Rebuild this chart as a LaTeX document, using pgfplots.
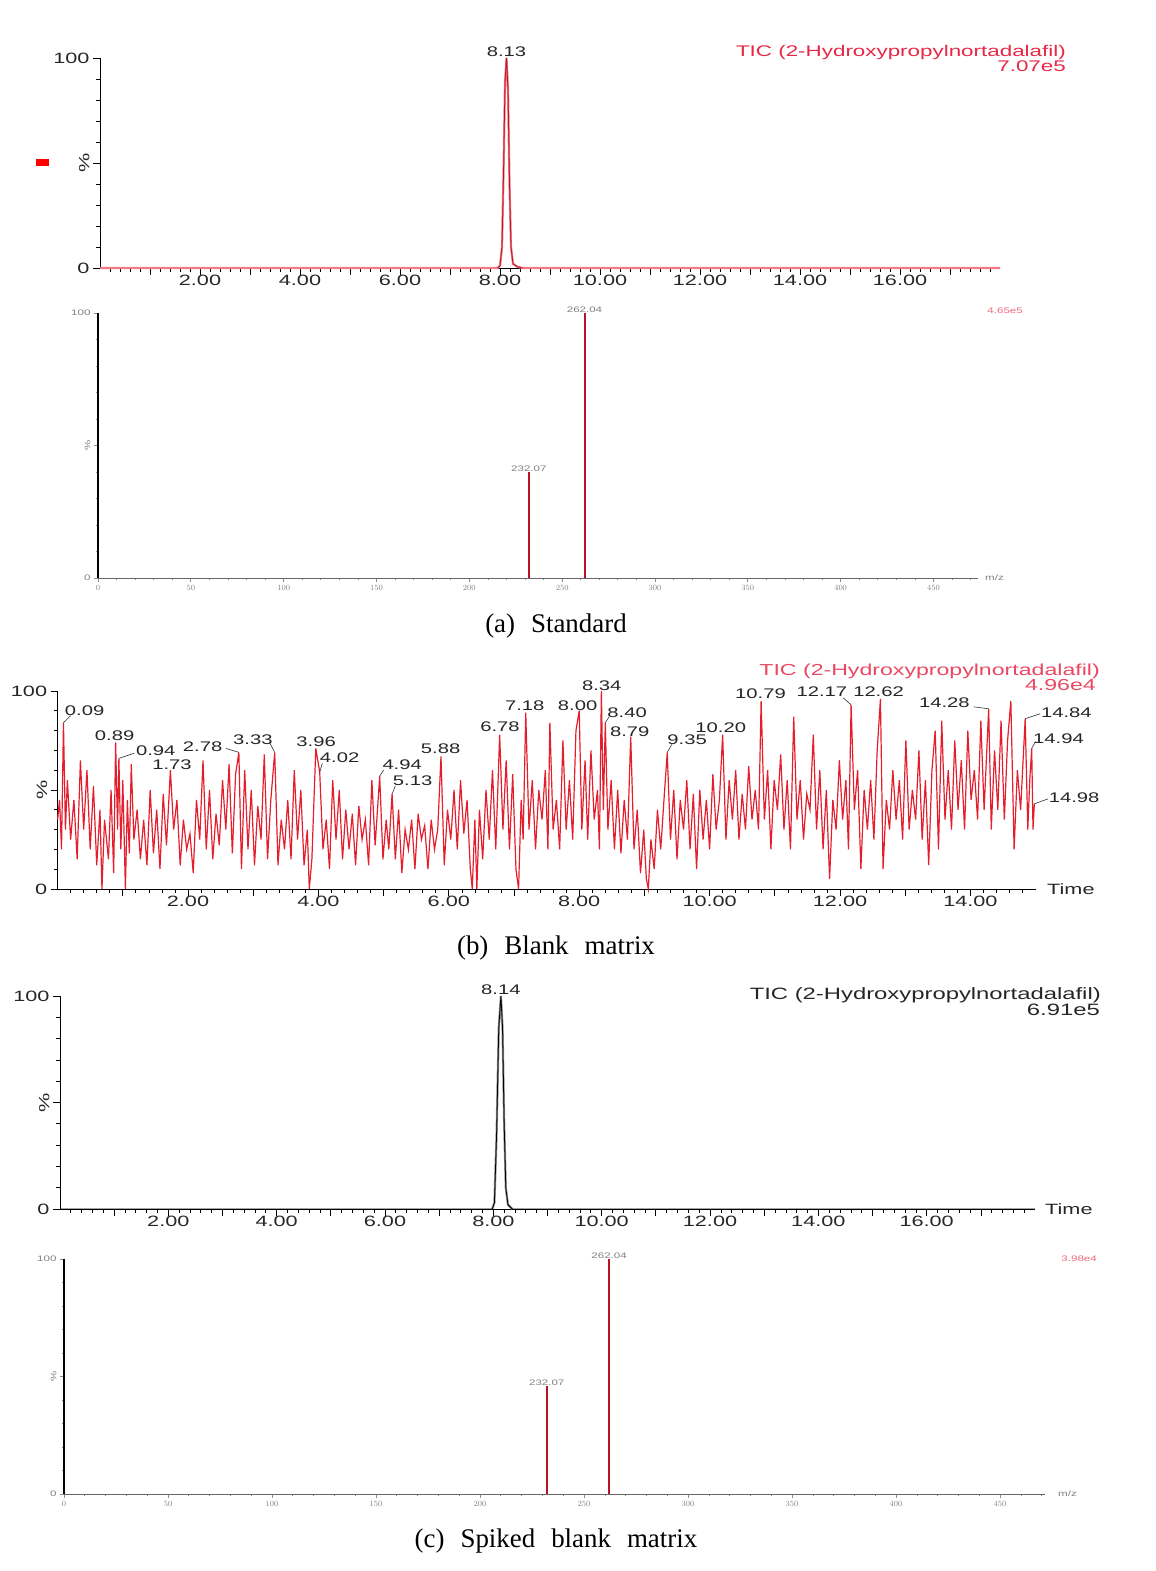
\documentclass[border=0pt]{standalone}
\usepackage{fontspec}
\setmainfont{Liberation Serif}
\newfontfamily\cf[FakeStretch=1.45]{Liberation Sans}
\usepackage{graphicx}
\usepackage{pgfplots}
\pgfplotsset{compat=1.18}
\definecolor{tred}{RGB}{228,30,45}
\definecolor{dred}{RGB}{185,20,35}
\definecolor{lred}{RGB}{240,120,130}
\definecolor{titred}{RGB}{230,40,70}
\pgfplotsset{
  chrom/.style={
    scale only axis, clip=false,
    axis x line*=bottom, axis y line*=left,
    axis line style={black, line width=0.8pt, -},
    tick align=outside, major tick length=7pt, minor tick length=4pt,
    every tick/.style={black, line width=0.7pt},
    ymin=0, ymax=100,
    ytick={0,50,100}, yticklabels={0,\rotatebox{90}{\%},100},
    minor ytick={10,20,...,90},
    tick label style={font=\fontsize{15}{17}\selectfont\cf, black!85},
    xticklabel style={yshift=3bp},
  },
  ms/.style={
    scale only axis, clip=false,
    axis x line*=bottom, axis y line*=left,
    axis line style={-},
    x axis line style={black!60, line width=0.8pt},
    y axis line style={black, line width=2pt},
    tick align=outside, major tick length=4pt, minor tick length=2pt,
    every tick/.style={black!45, line width=0.7pt},
    ymin=0, ymax=100,
    ytick={0,50,100}, yticklabels={0,\rotatebox{90}{\%},100},
    minor ytick={10,20,...,90},
    xtick={0,50,...,450}, minor xtick={10,20,...,470},
    tick label style={font=\fontsize{8}{9}\selectfont\cf, black!50},
  },
}
\newcommand{\lf}{\fontsize{14}{16}\selectfont\cf}
\newcommand{\gap}{\hspace{16bp}}
\begin{document}
\begin{tikzpicture}[x=1bp,y=1bp]
\path[use as bounding box] (0,0) rectangle (1155,1571);

% ---------- Panel 1: TIC standard ----------
\begin{axis}[chrom, at={(100bp,1303bp)}, anchor=south west, width=900bp, height=210bp,
  xmin=0, xmax=18, xtick={1,2,...,17},
  xticklabels={{},2.00,{},4.00,{},6.00,{},8.00,{},10.00,{},12.00,{},14.00,{},16.00,{}},
  minor xtick={0.2,0.4,...,17.8}]
\addplot[lred, line width=2.2bp] coordinates {(0,0) (7.95,0) (8.00,1) (8.04,10) (8.07,45) (8.10,88) (8.13,100) (8.16,85) (8.19,40) (8.22,10) (8.26,2) (8.35,0.5) (8.45,0) (18,0)};
\addplot[dred, line width=0.8bp] coordinates {(7.95,0) (8.00,1) (8.04,10) (8.07,45) (8.10,88) (8.13,100) (8.16,85) (8.19,40) (8.22,10) (8.26,2) (8.35,0.5) (8.45,0)};
\node[anchor=south, inner sep=0pt, yshift=1bp, font=\lf, black!85] at (axis cs:8.13,100) {8.13};
\end{axis}
\node[anchor=east, inner sep=0pt, font=\fontsize{15.5}{17}\selectfont\cf, titred] at (1066,1518) {TIC (2-Hydroxypropylnortadalafil)};
\node[anchor=east, inner sep=0pt, font=\fontsize{15.5}{17}\selectfont\cf, titred] at (1066,1505) {7.07e5};
\fill[red] (36,1405) rectangle (49,1412);

% ---------- Panel 2: MS standard ----------
\begin{axis}[ms, at={(98bp,993bp)}, anchor=south west, width=880bp, height=265bp,
  xmin=0, xmax=474]
\addplot[ycomb, dred, line width=2bp] coordinates {(232.07,40) (262.04,100)};
\node[anchor=south, inner sep=0pt, font=\fontsize{8}{9}\selectfont\cf, black!50] at (axis cs:262.04,100) {262.04};
\node[anchor=south, inner sep=0pt, font=\fontsize{8}{9}\selectfont\cf, black!50] at (axis cs:232.07,40) {232.07};
\end{axis}
\node[anchor=east, inner sep=0pt, font=\fontsize{8}{9}\selectfont\cf, titred!70] at (1023,1260) {4.65e5};
\node[anchor=west, inner sep=0pt, font=\fontsize{8}{9}\selectfont\cf, black!50] at (985,993) {m/z};
\node[font=\fontsize{27}{29}\selectfont] at (556,945) {(a)\gap Standard};

% ---------- Panel 3: blank matrix ----------
\begin{axis}[chrom, at={(57.6bp,682bp)}, anchor=south west, width=978bp, height=198bp,
  xmin=0, xmax=15, xtick={1,2,...,14},
  xticklabels={{},2.00,{},4.00,{},6.00,{},8.00,{},10.00,{},12.00,{},14.00},
  minor xtick={0.2,0.4,...,14.8}]
\addplot[tred, line width=1.2bp] coordinates {
(0.00,35) (0.03,45) (0.06,20) (0.09,84) (0.12,30) (0.15,55) (0.20,25) (0.25,45) (0.30,15) (0.35,65)
(0.40,30) (0.45,60) (0.50,20) (0.55,52) (0.60,12) (0.65,40) (0.68,0) (0.72,35) (0.78,15) (0.82,50)
(0.86,8) (0.89,74) (0.92,30) (0.94,66) (0.97,20) (1.00,55) (1.04,0) (1.07,45) (1.10,18) (1.13,63)
(1.17,25) (1.22,40) (1.27,15) (1.32,35) (1.37,12) (1.42,50) (1.47,18) (1.52,40) (1.57,10) (1.62,48)
(1.67,22) (1.73,60) (1.78,30) (1.83,45) (1.88,12) (1.93,35) (1.98,20) (2.03,28) (2.08,8) (2.13,45)
(2.18,25) (2.23,65) (2.28,20) (2.33,50) (2.38,15) (2.43,38) (2.48,22) (2.53,55) (2.58,30) (2.63,63)
(2.68,18) (2.73,58) (2.78,69) (2.82,10) (2.87,60) (2.92,20) (2.97,50) (3.02,12) (3.07,42) (3.12,25)
(3.17,68) (3.22,15) (3.27,45) (3.33,69) (3.38,12) (3.43,35) (3.48,20) (3.53,45) (3.58,15) (3.63,60)
(3.68,25) (3.73,50) (3.78,12) (3.83,30) (3.86,0) (3.90,15) (3.96,71) (4.02,59) (4.07,20) (4.12,35)
(4.17,10) (4.22,55) (4.27,25) (4.32,50) (4.37,15) (4.42,40) (4.47,20) (4.52,38) (4.57,12) (4.62,42)
(4.67,25) (4.72,35) (4.77,12) (4.82,55) (4.87,22) (4.94,57) (4.99,15) (5.04,35) (5.08,20) (5.13,48)
(5.18,15) (5.23,40) (5.28,8) (5.33,30) (5.38,20) (5.43,35) (5.48,10) (5.53,38) (5.58,25) (5.63,32)
(5.68,10) (5.73,35) (5.78,20) (5.83,30) (5.88,67) (5.93,12) (5.98,40) (6.03,25) (6.08,50) (6.13,20)
(6.18,55) (6.23,28) (6.28,45) (6.33,10) (6.36,0) (6.40,35) (6.43,0) (6.47,40) (6.52,15) (6.57,50)
(6.62,25) (6.67,60) (6.72,20) (6.78,78) (6.83,30) (6.88,65) (6.93,20) (6.98,58) (7.03,10) (7.07,0)
(7.11,45) (7.14,25) (7.18,89) (7.23,30) (7.28,55) (7.33,20) (7.38,50) (7.43,35) (7.48,60) (7.52,20)
(7.55,84) (7.60,30) (7.65,45) (7.70,20) (7.75,75) (7.80,30) (7.85,55) (7.90,25) (7.95,80) (8.00,90)
(8.04,30) (8.09,65) (8.13,25) (8.18,70) (8.23,35) (8.28,50) (8.31,20) (8.34,100) (8.37,40) (8.40,84)
(8.44,30) (8.49,55) (8.54,20) (8.59,50) (8.64,18) (8.69,45) (8.74,25) (8.79,77) (8.84,20) (8.89,40)
(8.94,8) (8.99,30) (9.03,5) (9.06,0) (9.10,25) (9.15,10) (9.20,40) (9.25,20) (9.30,45) (9.35,69)
(9.40,25) (9.45,50) (9.50,15) (9.55,45) (9.60,30) (9.65,55) (9.70,20) (9.75,48) (9.80,10) (9.85,50)
(9.90,25) (9.95,45) (10.00,20) (10.05,58) (10.10,30) (10.15,45) (10.20,78) (10.25,25) (10.30,55) (10.35,35)
(10.40,60) (10.45,25) (10.50,48) (10.55,30) (10.60,62) (10.65,35) (10.70,50) (10.75,30) (10.79,95) (10.84,35)
(10.89,60) (10.94,20) (10.99,55) (11.04,40) (11.09,68) (11.14,30) (11.19,55) (11.24,20) (11.29,87) (11.34,35)
(11.39,55) (11.44,25) (11.49,48) (11.54,40) (11.59,78) (11.64,30) (11.69,60) (11.74,20) (11.79,50) (11.84,5)
(11.89,45) (11.94,30) (11.99,65) (12.04,35) (12.09,55) (12.13,20) (12.17,93) (12.22,40) (12.27,60) (12.32,10)
(12.37,50) (12.42,30) (12.47,55) (12.52,25) (12.57,70) (12.62,96) (12.66,10) (12.71,45) (12.76,30) (12.81,60)
(12.86,35) (12.91,55) (12.96,25) (13.01,75) (13.06,30) (13.11,50) (13.16,35) (13.21,70) (13.26,25) (13.31,55)
(13.36,12) (13.41,60) (13.46,80) (13.51,20) (13.56,85) (13.61,35) (13.66,60) (13.71,30) (13.76,75) (13.81,40)
(13.86,65) (13.91,30) (13.96,80) (14.01,45) (14.06,60) (14.11,35) (14.16,85) (14.21,40) (14.28,91) (14.32,30)
(14.37,70) (14.42,40) (14.47,85) (14.52,35) (14.57,75) (14.62,95) (14.67,20) (14.72,60) (14.77,40) (14.84,86)
(14.88,30) (14.91,55) (14.94,71) (14.96,30) (14.98,43)};
% peak labels
\begin{scope}[every node/.style={anchor=west, inner sep=0pt, font=\lf, black!85}]
\node at (axis cs:0.11,89.9) {0.09};
\node at (axis cs:0.57,77.3) {0.89};
\node at (axis cs:1.20,69.7) {0.94};
\node at (axis cs:1.45,62.6) {1.73};
\node at (axis cs:1.92,71.7) {2.78};
\node at (axis cs:2.69,75.3) {3.33};
\node at (axis cs:3.66,74.2) {3.96};
\node at (axis cs:4.02,66.2) {4.02};
\node at (axis cs:4.98,62.6) {4.94};
\node at (axis cs:5.14,54.5) {5.13};
\node at (axis cs:5.57,70.7) {5.88};
\node at (axis cs:6.48,81.8) {6.78};
\node at (axis cs:6.86,92.4) {7.18};
\node at (axis cs:7.67,92.4) {8.00};
\node at (axis cs:8.04,102.5) {8.34};
\node at (axis cs:8.43,88.9) {8.40};
\node at (axis cs:8.47,79.3) {8.79};
\node at (axis cs:9.35,75.3) {9.35};
\node at (axis cs:9.78,81.3) {10.20};
\node at (axis cs:10.39,98.5) {10.79};
\node at (axis cs:11.33,99.5) {12.17};
\node at (axis cs:12.20,99.5) {12.62};
\node at (axis cs:13.21,93.9) {14.28};
\node at (axis cs:15.08,88.9) {14.84};
\node at (axis cs:14.96,75.8) {14.94};
\node at (axis cs:15.20,46) {14.98};
\end{scope}
\begin{scope}[black!80, line width=0.6bp]
\draw (axis cs:0.09,84) -- (axis cs:0.20,87.5);
\draw (axis cs:0.94,66) -- (axis cs:1.17,68.5);
\draw (axis cs:2.58,71) -- (axis cs:2.78,69);
\draw (axis cs:3.25,74) -- (axis cs:3.33,69);
\draw (axis cs:4.02,59) -- (axis cs:4.06,63.5);
\draw (axis cs:4.94,57) -- (axis cs:5.00,60);
\draw (axis cs:5.13,48) -- (axis cs:5.18,52);
\draw (axis cs:8.40,84) -- (axis cs:8.46,87);
\draw (axis cs:9.35,69) -- (axis cs:9.42,73);
\draw (axis cs:12.05,96.5) -- (axis cs:12.17,93);
\draw (axis cs:14.05,92) -- (axis cs:14.28,91);
\draw (axis cs:14.84,86) -- (axis cs:15.07,88.5);
\draw (axis cs:14.94,71) -- (axis cs:15.00,74.5);
\draw (axis cs:14.98,43) -- (axis cs:15.19,45.5);
\end{scope}
\end{axis}
\node[anchor=east, inner sep=0pt, font=\fontsize{16}{18}\selectfont\cf, titred!85] at (1100,900) {TIC (2-Hydroxypropylnortadalafil)};
\node[anchor=east, inner sep=0pt, font=\fontsize{16}{18}\selectfont\cf, titred!85] at (1096,886) {4.96e4};
\node[anchor=west, inner sep=0pt, font=\fontsize{15}{17}\selectfont\cf, black!85] at (1047,682) {Time};
\node[font=\fontsize{27}{29}\selectfont] at (556,623) {(b)\gap Blank\gap matrix};

% ---------- Panel 4: spiked TIC ----------
\begin{axis}[chrom, at={(60bp,362bp)}, anchor=south west, width=975bp, height=213bp,
  xmin=0, xmax=18, xtick={1,2,...,17},
  xticklabels={{},2.00,{},4.00,{},6.00,{},8.00,{},10.00,{},12.00,{},14.00,{},16.00,{}},
  minor xtick={0.2,0.4,...,17.8}]
\addplot[black!45, line width=2.2bp] coordinates {(7.98,0) (8.02,3) (8.06,35) (8.10,85) (8.14,100) (8.17,85) (8.20,40) (8.23,10) (8.27,2) (8.35,0)};
\addplot[black, line width=0.8bp] coordinates {(0,0) (7.98,0) (8.02,3) (8.06,35) (8.10,85) (8.14,100) (8.17,85) (8.20,40) (8.23,10) (8.27,2) (8.35,0) (18,0)};
\node[anchor=south, inner sep=0pt, yshift=1bp, font=\lf, black!85] at (axis cs:8.14,100) {8.14};
\end{axis}
\node[anchor=east, inner sep=0pt, font=\fontsize{16.5}{18}\selectfont\cf, black!85] at (1101,576) {TIC (2-Hydroxypropylnortadalafil)};
\node[anchor=east, inner sep=0pt, font=\fontsize{16.5}{18}\selectfont\cf, black!85] at (1100,561) {6.91e5};
\node[anchor=west, inner sep=0pt, font=\fontsize{15}{17}\selectfont\cf, black!85] at (1045,362) {Time};

% ---------- Panel 5: spiked MS ----------
\begin{axis}[ms, at={(64bp,77bp)}, anchor=south west, width=981bp, height=235bp,
  xmin=0, xmax=471.6]
\addplot[ycomb, dred, line width=2bp] coordinates {(232.07,46) (262.04,100)};
\node[anchor=south, inner sep=0pt, font=\fontsize{8}{9}\selectfont\cf, black!50] at (axis cs:262.04,100) {262.04};
\node[anchor=south, inner sep=0pt, font=\fontsize{8}{9}\selectfont\cf, black!50] at (axis cs:232.07,46) {232.07};
\end{axis}
\node[anchor=east, inner sep=0pt, font=\fontsize{8}{9}\selectfont\cf, titred!70] at (1097,312) {3.98e4};
\node[anchor=west, inner sep=0pt, font=\fontsize{8}{9}\selectfont\cf, black!50] at (1058,77) {m/z};
\node[font=\fontsize{27}{29}\selectfont] at (556,30) {(c)\gap Spiked\gap blank\gap matrix};
\end{tikzpicture}
\end{document}
